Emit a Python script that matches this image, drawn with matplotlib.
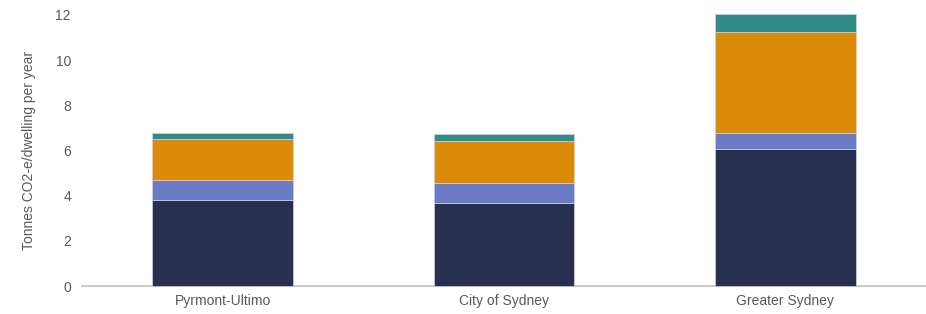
import numpy as np
import matplotlib.pyplot as plt

plt.rcParams["font.family"] = ["Liberation Sans", "DejaVu Sans"]

areas = ["Pyrmont-Ultimo", "City of Sydney", "Greater Sydney"]
seg1 = [3.81, 3.66, 6.05]
seg2 = [0.88, 0.90, 0.74]
seg3 = [1.82, 1.87, 4.44]
seg4 = [0.25, 0.30, 0.80]

colors = ["#28304f", "#6b7bc4", "#db8a0a", "#318a88"]

fig = plt.figure(figsize=(9.26, 3.14), dpi=100)
ax = fig.add_axes([82 / 926, 28 / 314, 1 - 82 / 926, 271 / 314])

x = np.arange(len(areas))
bottom = np.zeros(len(areas))
for vals, col in zip([seg1, seg2, seg3, seg4], colors):
    ax.bar(x, vals, width=0.5, bottom=bottom, color=col,
           edgecolor="#d0d4de", linewidth=0.5, clip_on=False, zorder=3)
    bottom += np.array(vals)

ax.set_xlim(-0.5, 2.5)
ax.set_ylim(0, 12)
ax.set_yticks(np.arange(0, 13, 2))
ax.set_xticks(x)
ax.set_xticklabels(areas)
ax.tick_params(axis="both", length=0, labelsize=10, colors="#595959")
ax.tick_params(axis="y", pad=8)
ax.tick_params(axis="x", pad=6)
ax.set_ylabel("Tonnes CO2-e/dwelling per year", fontsize=10, color="#595959", labelpad=14)

for s in ["top", "right", "left"]:
    ax.spines[s].set_visible(False)
ax.spines["bottom"].set_color("#bfbfbf")
ax.spines["bottom"].set_linewidth(1.2)

fig.savefig("out.png", dpi=100)
